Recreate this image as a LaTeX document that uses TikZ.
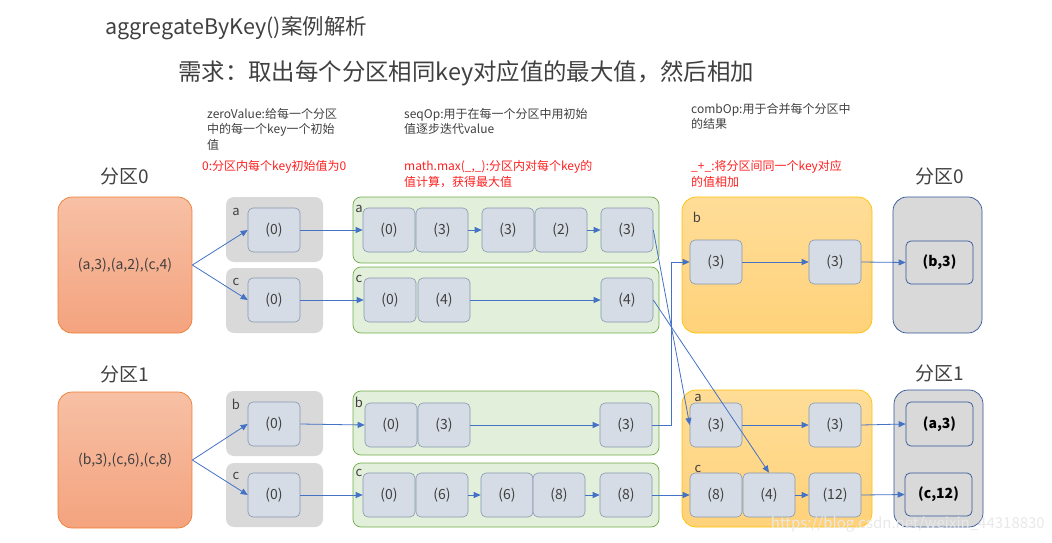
\documentclass[tikz,border=0pt]{standalone}
\usepackage{fontspec}
\setmainfont{Noto Sans CJK SC}
\usetikzlibrary{arrows.meta}
\definecolor{arrowblue}{HTML}{4472C4}
\definecolor{partB}{HTML}{ED7D31}
\definecolor{partT}{HTML}{F7C0A5}
\definecolor{partD}{HTML}{F4A37E}
\definecolor{grayF}{HTML}{D9D9D9}
\definecolor{greenF}{HTML}{E2EFDA}
\definecolor{greenB}{HTML}{70AD47}
\definecolor{combT}{HTML}{FFDD98}
\definecolor{combD}{HTML}{FFD27A}
\definecolor{combB}{HTML}{FFC000}
\definecolor{resB}{HTML}{2F5597}
\definecolor{valF}{HTML}{D6DCE5}
\definecolor{valB}{HTML}{8497B0}
\definecolor{txt}{HTML}{404040}
\definecolor{redt}{HTML}{FF2020}
\tikzset{
  fs/.style={font=\fontsize{#1}{#1}\selectfont},
  part/.style={draw=partB, top color=partT, bottom color=partD, rounded corners=14pt,
    minimum width=134pt, minimum height=136pt, inner sep=0pt, fs=14, text=txt, line width=0.7pt},
  grp/.style={fill=grayF, rounded corners=8pt, minimum width=97pt, inner sep=0pt},
  seqg/.style={fill=greenF, draw=greenB, rounded corners=8pt, minimum width=306pt, inner sep=0pt, line width=0.7pt},
  comb/.style={draw=combB, top color=combT, bottom color=combD, rounded corners=14pt,
    minimum width=190pt, minimum height=136pt, inner sep=0pt, line width=0.7pt},
  res/.style={fill=grayF, draw=resB, rounded corners=14pt, minimum width=89pt, minimum height=136pt, inner sep=0pt, line width=0.7pt},
  val/.style={fill=valF, draw=valB, rounded corners=5pt, minimum width=52pt, minimum height=44pt,
    inner sep=0pt, fs=14, text=txt, line width=0.6pt},
  resv/.style={fill=grayF, draw=resB, rounded corners=5pt, minimum width=67pt, minimum height=43pt,
    inner sep=0pt, font=\fontsize{14}{14}\selectfont\bfseries, text=black, line width=0.7pt},
  lbl/.style={fs=13, text=txt, inner sep=0pt},
  head/.style={fs=19, text=txt, inner sep=0pt},
  note/.style={fs=12, text=txt, inner sep=0pt, anchor=north west, align=left},
  rnote/.style={font=\fontsize{12}{16}\selectfont, text=redt, inner sep=0pt, anchor=north west, align=left},
  arr/.style={draw=arrowblue, line width=0.8pt, -{Triangle[length=7pt,width=6pt]}}
}
\begin{document}
\begin{tikzpicture}[x=1pt,y=-1pt]
\useasboundingbox (0,0) rectangle (1052,543);

% titles
\node[fs=21.5, text=txt, inner sep=0pt, anchor=west] (title) at (105,28) {aggregateByKey()案例解析};
\node[fs=23.4, text=txt, inner sep=0pt, anchor=west] (req) at (178,73) {需求：取出每个分区相同key对应值的最大值，然后相加};

% notes
\node[note, font=\fontsize{12}{15.5}\selectfont] (n1) at (207,108) {zeroValue:给每一个分区\\中的每一个key一个初始\\值};
\node[note, font=\fontsize{12}{15.5}\selectfont] (n2) at (404,108) {seqOp:用于在每一个分区中用初始\\值逐步迭代value};
\node[note, font=\fontsize{12}{15.5}\selectfont] (n3) at (691,103) {combOp:用于合并每个分区中\\的结果};
\node[rnote] (r1) at (202,160) {0:分区内每个key初始值为0};
\node[rnote] (r2) at (404,160) {math.max(\_,\_):分区内对每个key的\\值计算，获得最大值};
\node[rnote] (r3) at (691,160) {\_+\_:将分区间同一个key对应\\的值相加};

% headers
\node[head] (h0) at (125,176) {分区0};
\node[head] (h1) at (125,374) {分区1};
\node[head] (h2) at (940,176) {分区0};
\node[head] (h3) at (940,373) {分区1};

% partitions
\node[part] (P0) at (125,265) {(a,3),(a,2),(c,4)};
\node[part] (P1) at (125,460) {(b,3),(c,6),(c,8)};

% zero groups
\node[grp, minimum height=65pt] (G0a) at (274.5,229.5) {};
\node[grp, minimum height=65pt] (G0c) at (274.5,300.5) {};
\node[grp, minimum height=65pt] (G1b) at (274.5,423.5) {};
\node[grp, minimum height=64pt] (G1c) at (274.5,495) {};
\node[lbl] (lga) at (236,212) {a};
\node[lbl] (lgc) at (236,282) {c};
\node[lbl] (lgb) at (236,404) {b};
\node[lbl] (lgd) at (236,476) {c};
\node[val] (Z0a) at (274,230) {(0)};
\node[val] (Z0c) at (274,300) {(0)};
\node[val] (Z1b) at (274,424) {(0)};
\node[val] (Z1c) at (274,495) {(0)};

% seq groups
\node[seqg, minimum height=66pt] (S0a) at (506,230) {};
\node[seqg, minimum height=66pt] (S0c) at (506,300) {};
\node[seqg, minimum height=64pt] (S1b) at (506,423) {};
\node[seqg, minimum height=64pt] (S1c) at (506,495) {};
\node[lbl] (lsa) at (359,209) {a};
\node[lbl] (lsc) at (359,279) {c};
\node[lbl] (lsb) at (359,402) {b};
\node[lbl] (lsd) at (359,473) {c};

\node[val] (a1) at (389,230) {(0)};
\node[val] (a2) at (442,230) {(3)};
\node[val] (a3) at (508,230) {(3)};
\node[val] (a4) at (561,230) {(2)};
\node[val] (a5) at (627,230) {(3)};

\node[val] (c1) at (390,300) {(0)};
\node[val] (c2) at (444,300) {(4)};
\node[val] (c3) at (627,300) {(4)};

\node[val] (b1) at (391,425) {(0)};
\node[val] (b2) at (444,425) {(3)};
\node[val] (b3) at (626,425) {(3)};

\node[val] (d1) at (389,495) {(0)};
\node[val] (d2) at (442,495) {(6)};
\node[val] (d3) at (507,495) {(6)};
\node[val] (d4) at (559,495) {(8)};
\node[val] (d5) at (626,495) {(8)};

% comb groups
\node[comb] (C0) at (777,265) {};
\node[comb, minimum height=137pt] (C1) at (777,458.5) {};
\node[lbl] (lcb) at (697,217) {b};
\node[lbl] (lca) at (698,398) {a};
\node[lbl] (lcc) at (698,469) {c};
\node[val] (cb1) at (716,262) {(3)};
\node[val] (cb2) at (835,262) {(3)};
\node[val] (ca1) at (716,425) {(3)};
\node[val] (ca2) at (835,425) {(3)};
\node[val] (cc1) at (716,495) {(8)};
\node[val] (cc2) at (769,495) {(4)};
\node[val] (cc3) at (835,495) {(12)};

% result groups
\node[res] (R0) at (937.5,265) {};
\node[res, minimum height=137pt] (R1) at (938.5,458.5) {};
\node[resv] (rb) at (939.5,262.5) {(b,3)};
\node[resv, minimum height=44pt] (ra) at (939.5,424) {(a,3)};
\node[resv] (rc) at (938.5,494.5) {(c,12)};

% arrows
\draw[arr] (P0.east) -- (Z0a.west);
\draw[arr] (P0.east) -- (Z0c.west);
\draw[arr] (P1.east) -- (Z1b.west);
\draw[arr] (P1.east) -- (Z1c.west);
\draw[arr] (Z0a.east) -- (a1.west);
\draw[arr] (Z0c.east) -- (c1.west);
\draw[arr] (Z1b.east) -- (b1.west);
\draw[arr] (Z1c.east) -- (d1.west);
\draw[arr] (a2.east) -- (a3.west);
\draw[arr] (a4.east) -- (a5.west);
\draw[arr] (c2.east) -- (c3.west);
\draw[arr] (b2.east) -- (b3.west);
\draw[arr] (d2.east) -- (d3.west);
\draw[arr] (d4.east) -- (d5.west);
\draw[arr] (a5.east) -- (ca1.west);
\draw[arr] (c3.east) -- (cc2.north);
\coordinate (bend) at (671,425);
\draw[arr] (b3.east) -- (bend) |- (cb1.west);
\draw[arr] (d5.east) -- (cc1.west);
\draw[arr] (cb1.east) -- (cb2.west);
\draw[arr] (cb2.east) -- (rb.west);
\draw[arr] (ca1.east) -- (ca2.west);
\draw[arr] (ca2.east) -- (ra.west);
\draw[arr] (cc2.east) -- (cc3.west);
\draw[arr] (cc3.east) -- (rc.west);

% watermark
\node[fs=15, text=white!82!gray, inner sep=0pt, anchor=east] (wm) at (1045,524) {https://blog.csdn.net/weixin\_44318830};
\end{tikzpicture}
\end{document}
